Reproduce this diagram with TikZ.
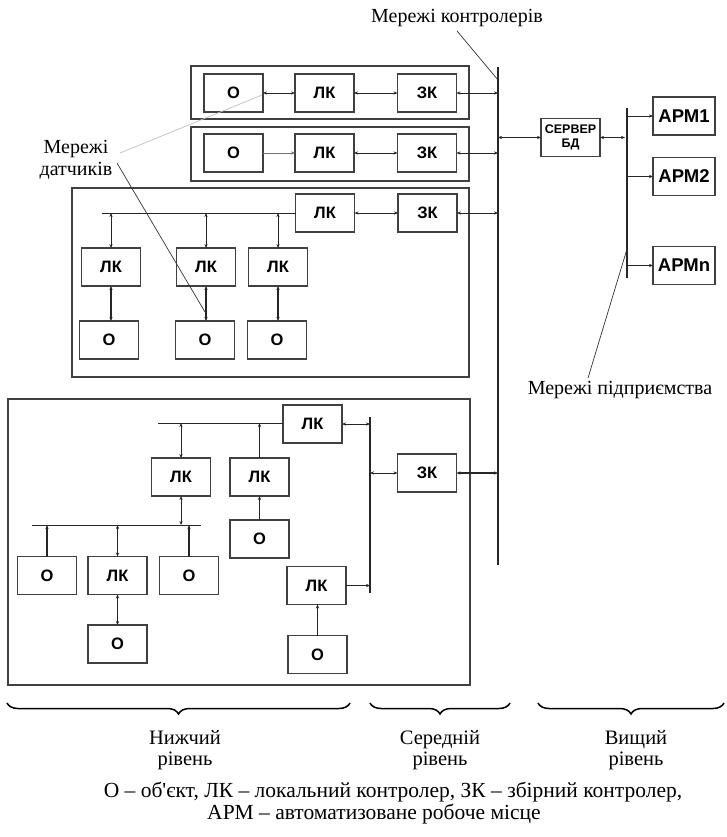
\documentclass[tikz,border=0pt]{standalone}
\usepackage{fontspec}
\setmainfont{Liberation Serif}
\newfontfamily\plainserif{Liberation Serif}
\newfontfamily\boxfont{Liberation Sans}
\usetikzlibrary{arrows.meta,decorations.pathreplacing}
\begin{document}
\begin{tikzpicture}[x=1pt,y=-1pt,
  bx/.style={draw=black!75, line width=1.1pt, rectangle, inner sep=0pt, outer sep=0pt,
    minimum width=59pt, minimum height=38pt, font=\boxfont\bfseries\fontsize{16.5}{17}\selectfont},
  apm/.style={bx, minimum width=62pt, font=\boxfont\bfseries\fontsize{18.5}{19}\selectfont},
  panel/.style={draw=black!75, line width=1.1pt},
  ln/.style={line width=0.7pt, draw=black!85},
  tk/.style={line width=1.2pt, draw=black!85},
  arrtip/.tip={Stealth[length=4pt,width=3.2pt]},
  bi/.style={{arrtip}-{arrtip}},
  uni/.style={-{arrtip}},
  bus/.style={line width=1.2pt, draw=black!85},
  lead/.style={line width=0.7pt, draw=black!80},
  lab/.style={font=\fontsize{20}{22}\selectfont, align=center, inner sep=0pt},
  lvl/.style={font=\fontsize{20.5}{21.5}\selectfont, align=center, inner sep=0pt},
  captxt/.style={font=\fontsize{21.5}{22}\selectfont, inner sep=0pt},
  brc/.style={line width=1.5pt, decorate, decoration={brace, mirror, amplitude=11pt}}
]
\useasboundingbox (0,0) rectangle (726,837);

% panels
\draw[panel] (191,66) rectangle (469,119);
\draw[panel] (191,127) rectangle (469,181);
\draw[panel] (72,188) rectangle (469,377);
\draw[panel] (8,399) rectangle (470,685);

% controller bus
\coordinate (cbT) at (498,67);
\coordinate (cbB) at (498,565);
\coordinate (cbL) at (498,80);
\draw[bus] (cbT) -- (cbB);

% row 1
\node[bx] (O1) at (233.5,93) {О};
\node[bx] (L1) at (324.5,93) {ЛК};
\node[bx] (Z1) at (427,93) {ЗК};
\draw[ln,bi] (O1.east) -- (L1.west);
\draw[ln,bi] (L1.east) -- (Z1.west);
\draw[ln,bi] (Z1.east) -- (Z1.east -| cbT);

% row 2
\node[bx] (O2) at (233.5,153) {О};
\node[bx] (L2) at (324.5,153) {ЛК};
\node[bx] (Z2) at (427,153) {ЗК};
\draw[ln,uni,draw=black!55] (O2.east) -- (L2.west);
\draw[ln,bi] (L2.east) -- (Z2.west);
\draw[ln,bi] (Z2.east) -- (Z2.east -| cbT);

% panel 3
\node[bx] (L3) at (325,213) {ЛК};
\node[bx] (Z3) at (427.5,213) {ЗК};
\draw[ln,bi] (L3.east) -- (Z3.west);
\draw[ln,bi] (Z3.east) -- (Z3.east -| cbT);
\coordinate (b3L) at (102,213);
\draw[ln] (b3L) -- (L3.west);
\node[bx] (L3a) at (111,267) {ЛК};
\node[bx] (L3b) at (206,267) {ЛК};
\node[bx] (L3c) at (278,267) {ЛК};
\node[bx] (O3a) at (109,340) {О};
\node[bx] (O3b) at (205,340) {О};
\node[bx] (O3c) at (277,340) {О};
\foreach \n in {L3a,L3b,L3c}{\draw[ln,bi] (\n.north |- b3L) -- (\n.north);}
\draw[tk,bi] (L3a.south) -- (L3a.south |- O3a.north);
\draw[tk,bi] (L3b.south) -- (L3b.south |- O3b.north);
\draw[tk,bi] (L3c.south) -- (L3c.south |- O3c.north);

% panel 4
\node[bx] (L4) at (312.5,424) {ЛК};
\coordinate (b4L) at (158,423);
\draw[ln] (b4L) -- (L4.west |- b4L);
\node[bx] (L4a) at (181,477) {ЛК};
\node[bx] (L4b) at (259.5,477) {ЛК};
\node[bx] (O4b) at (259.5,539) {О};
\draw[ln,bi] (L4a.north |- b4L) -- (L4a.north);
\draw[tk,uni] (L4b.north) -- (L4b.north |- b4L);
\draw[tk,uni] (O4b.north) -- (L4b.south);
\coordinate (b4bL) at (32,525);
\coordinate (b4bR) at (201,525);
\draw[ln] (b4bL) -- (b4bR);
\draw[ln,bi] (L4a.south) -- (L4a.south |- b4bL);
\node[bx] (O4c) at (47,575.5) {О};
\node[bx] (L4c) at (117.5,575.5) {ЛК};
\node[bx] (O4d) at (189,575.5) {О};
\node[bx] (O4e) at (117.5,644) {О};
\draw[tk,uni] (O4c.north) -- (O4c.north |- b4bL);
\draw[tk,bi] (L4c.north) -- (L4c.north |- b4bL);
\draw[tk,uni] (O4d.north) -- (O4d.north |- b4bL);
\draw[ln,bi] (L4c.south) -- (O4e.north);
\node[bx] (L4d) at (316.5,585.5) {ЛК};
\node[bx] (O4f) at (317.5,654.5) {О};
\draw[tk,uni] (O4f.north) -- (O4f.north |- L4d.south);
\coordinate (lbT) at (370,417);
\coordinate (lbB) at (370,593);
\draw[bus] (lbT) -- (lbB);
\node[bx] (Z4) at (427,473) {ЗК};
\draw[ln,bi] (L4.east) -- (L4.east -| lbT);
\draw[tk,uni] (L4d.east) -- (L4d.east -| lbT);
\draw[ln,bi] (Z4.west -| lbT) -- (Z4.west);
\draw[tk,bi] (Z4.east) -- (Z4.east -| cbT);

% server and upper level
\node[bx, align=center, font=\boxfont\bfseries\fontsize{12.5}{14.5}\selectfont] (srv) at (570.5,137.5) {СЕРВЕР\\БД};
\draw[tk,bi] (srv.west -| cbT) -- (srv.west);
\coordinate (ebT) at (627,108);
\coordinate (ebB) at (627,278);
\coordinate (ebL) at (627,249);
\draw[bus] (ebT) -- (ebB);
\draw[ln,bi] (srv.east) -- ([xshift=-2pt]srv.east -| ebT);
\node[apm] (A1) at (684,116) {АРМ1};
\node[apm] (A2) at (684,176.5) {АРМ2};
\node[apm] (An) at (684,265.5) {АРМn};
\foreach \n in {A1,A2,An}{\draw[ln,uni] (\n.west -| ebT) -- (\n.west);}

% labels and leaders
\node[lab] (labC) at (457,18) {Мережі контролерів};
\draw[lead] ([yshift=-4pt]labC.south) -- (cbL);
\node[lab] (labS) at (76,160) {Мережі\\датчиків};
\coordinate (sA) at (262,95);
\coordinate (sB) at (205,312);
\draw[lead, draw=black!25] (120,153) -- (sA);
\draw[lead] (117,163) -- (sB);
\node[lab] (labE) at (620,390) {Мережі підприємства};
\draw[lead] ([yshift=3pt]labE.north -| 588,0) -- (ebL);

% braces
\coordinate (br1a) at (7,703); \coordinate (br1b) at (350,703);
\coordinate (br2a) at (370,703); \coordinate (br2b) at (510,703);
\coordinate (br3a) at (538,703); \coordinate (br3b) at (724,703);
\draw[brc] (br1a) -- (br1b);
\draw[brc] (br2a) -- (br2b);
\draw[brc] (br3a) -- (br3b);
\node[lvl] (lv1) at (185,750) {Нижчий\\рівень};
\node[lvl] (lv2) at (440,750) {Середній\\рівень};
\node[lvl] (lv3) at (636,750) {Вищий\\рівень};

% caption
\node[captxt] (cap1) at (393,792) {О – об{\plainserif '}єкт, ЛК – локальний контролер, ЗК – збірний контролер,};
\node[captxt] (cap2) at (374,814) {АРМ – автоматизоване робоче місце};
\end{tikzpicture}
\end{document}
